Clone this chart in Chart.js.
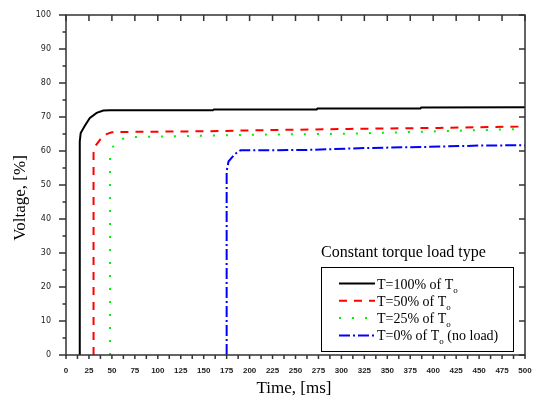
<!DOCTYPE html>
<html>
<head>
<meta charset="utf-8">
<title>Constant torque load type</title>
<script src="https://cdn.jsdelivr.net/npm/chart.js@4.4.1/dist/chart.umd.min.js"></script>
<style>
  html, body { margin: 0; padding: 0; background: #fff; }
  canvas { display: block; }
</style>
</head>
<body>
<canvas id="voltageChart" width="534" height="401"></canvas>
<script>
// time [ms] and voltage [%] for each load level
const t100Time = [15, 15, 16, 20.7, 26, 33.4, 40.6, 48, 160, 161, 273, 274, 386, 387, 500];
const t100Volt = [0, 62.8, 65.3, 67.5, 69.7, 71.2, 71.9, 72, 72, 72.2, 72.2, 72.5, 72.5, 72.8, 72.9];

const t50Time = [30, 30, 32, 37, 42.5, 50, 60, 150, 211, 309, 407, 500];
const t50Volt = [0, 59.4, 61.5, 63.3, 64.8, 65.5, 65.6, 65.8, 66.1, 66.5, 66.8, 67.2];

const t25Time = [48, 48, 51, 55, 62, 69, 130, 211, 309, 364, 500];
const t25Volt = [0, 59, 61.2, 62.5, 63.6, 64.1, 64.4, 64.8, 65.1, 65.5, 66.5];

const t0Time = [175, 175, 177, 184, 190, 200, 260, 331, 393, 451, 500];
const t0Volt = [0, 54, 56.9, 59.1, 60.2, 60.2, 60.3, 60.9, 61.2, 61.6, 61.7];

const seriesNames = ["T=100% of T", "T=50% of T", "T=25% of T", "T=0% of T"];
const seriesTails = ["", "", "", " (no load)"];

const xTickValues = [0, 25, 50, 75, 100, 125, 150, 175, 200, 225, 250, 275, 300, 325, 350, 375, 400, 425, 450, 475, 500];
const yTickValues = [0, 10, 20, 30, 40, 50, 60, 70, 80, 90, 100];

const AXIS_COLOR = "#333";
const SERIF = "'Liberation Serif', 'Times New Roman', serif";
const xTickFont = { family: "'Liberation Sans', Arial, sans-serif", size: 8, weight: "bold" };
const yTickFont = { family: "'DejaVu Sans', sans-serif", size: 8, weight: "normal" };

function toPoints(xs, ys) {
  return xs.map((x, i) => ({ x, y: ys[i] }));
}

function lineSet(name, xs, ys, color, dash) {
  return {
    label: name,
    data: toPoints(xs, ys),
    borderColor: color,
    backgroundColor: color,
    borderWidth: 2,
    borderDash: dash,
    borderCapStyle: "butt",
    pointRadius: 0,
    tension: 0,
    fill: false
  };
}

// box, tick marks, axis titles and the legend panel
const framePlugin = {
  id: "frame",
  afterDraw(chart) {
    const { ctx, chartArea: a, scales: { x, y } } = chart;
    ctx.save();

    ctx.strokeStyle = AXIS_COLOR;
    ctx.lineWidth = 1.5;
    ctx.strokeRect(a.left, a.top, a.right - a.left, a.bottom - a.top);

    ctx.beginPath();
    yTickValues.forEach((v, i) => {
      const py = y.getPixelForValue(v);
      ctx.moveTo(a.left - 7, py);
      ctx.lineTo(a.left, py);
      ctx.moveTo(a.right, py);
      ctx.lineTo(a.right - 6, py);
      if (i < yTickValues.length - 1) {
        const pm = y.getPixelForValue((v + yTickValues[i + 1]) / 2);
        ctx.moveTo(a.left - 3.5, pm);
        ctx.lineTo(a.left, pm);
      }
    });
    xTickValues.forEach((v, i) => {
      const px = x.getPixelForValue(v);
      ctx.moveTo(px, a.bottom);
      ctx.lineTo(px, a.bottom + 4);
      ctx.moveTo(px, a.top);
      ctx.lineTo(px, a.top + 6);
      if (i < xTickValues.length - 1) {
        const pm = x.getPixelForValue((v + xTickValues[i + 1]) / 2);
        ctx.moveTo(pm, a.bottom);
        ctx.lineTo(pm, a.bottom + 4);
      }
    });
    ctx.stroke();

    // axis titles
    ctx.fillStyle = "#000";
    ctx.font = "17px " + SERIF;
    ctx.textAlign = "center";
    ctx.textBaseline = "middle";
    ctx.fillText("Time, [ms]", 294, 389);
    ctx.save();
    ctx.translate(21, 198);
    ctx.rotate(-Math.PI / 2);
    ctx.fillText("Voltage, [%]", 0, 0);
    ctx.restore();

    // legend
    ctx.font = "16px " + SERIF;
    ctx.textAlign = "left";
    ctx.textBaseline = "alphabetic";
    ctx.fillText("Constant torque load type", 321, 257);

    ctx.lineWidth = 1;
    ctx.strokeStyle = "#000";
    ctx.strokeRect(321.5, 267.5, 192, 84);

    chart.data.datasets.forEach((ds, i) => {
      const base = 288.5 + i * 17.3;
      ctx.save();
      ctx.strokeStyle = ds.borderColor;
      ctx.lineWidth = ds.borderWidth;
      ctx.setLineDash(ds.borderDash);
      ctx.beginPath();
      ctx.moveTo(339, base - 5);
      ctx.lineTo(375, base - 5);
      ctx.stroke();
      ctx.restore();

      ctx.font = "14px " + SERIF;
      ctx.fillText(seriesNames[i], 377, base);
      let tx = 377 + ctx.measureText(seriesNames[i]).width;
      ctx.font = "9px " + SERIF;
      ctx.fillText("o", tx, base + 4);
      tx += ctx.measureText("o").width;
      if (seriesTails[i]) {
        ctx.font = "14px " + SERIF;
        ctx.fillText(seriesTails[i], tx, base);
      }
    });

    ctx.restore();
  }
};

new Chart(document.getElementById("voltageChart"), {
  type: "line",
  data: {
    datasets: [
      lineSet("T=100% of To", t100Time, t100Volt, "#000000", []),
      lineSet("T=50% of To", t50Time, t50Volt, "#ff0000", [8, 7]),
      lineSet("T=25% of To", t25Time, t25Volt, "#00ee00", [2, 11]),
      lineSet("T=0% of To (no load)", t0Time, t0Volt, "#0000ff", [11, 3, 2, 3])
    ]
  },
  options: {
    responsive: false,
    animation: false,
    layout: { padding: { top: 15, right: 9, left: 0, bottom: 0 } },
    plugins: {
      legend: { display: false },
      tooltip: { enabled: false }
    },
    scales: {
      x: {
        type: "linear",
        min: 0,
        max: 500,
        afterBuildTicks: scale => { scale.ticks = xTickValues.map(value => ({ value })); },
        afterFit: scale => {
          scale.height = 46;
          scale.paddingLeft = 0;
          scale.paddingRight = 0;
        },
        grid: { display: false, drawTicks: false },
        border: { display: false },
        ticks: { font: xTickFont, color: "#222", padding: 11, maxRotation: 0, autoSkip: false }
      },
      y: {
        min: 0,
        max: 100,
        afterBuildTicks: scale => { scale.ticks = yTickValues.map(value => ({ value })); },
        afterFit: scale => {
          scale.width = 66;
          scale.paddingTop = 0;
          scale.paddingBottom = 0;
        },
        grid: { display: false, drawTicks: false },
        border: { display: false },
        ticks: { font: yTickFont, color: "#222", padding: 15 }
      }
    }
  },
  plugins: [framePlugin]
});
</script>
</body>
</html>
